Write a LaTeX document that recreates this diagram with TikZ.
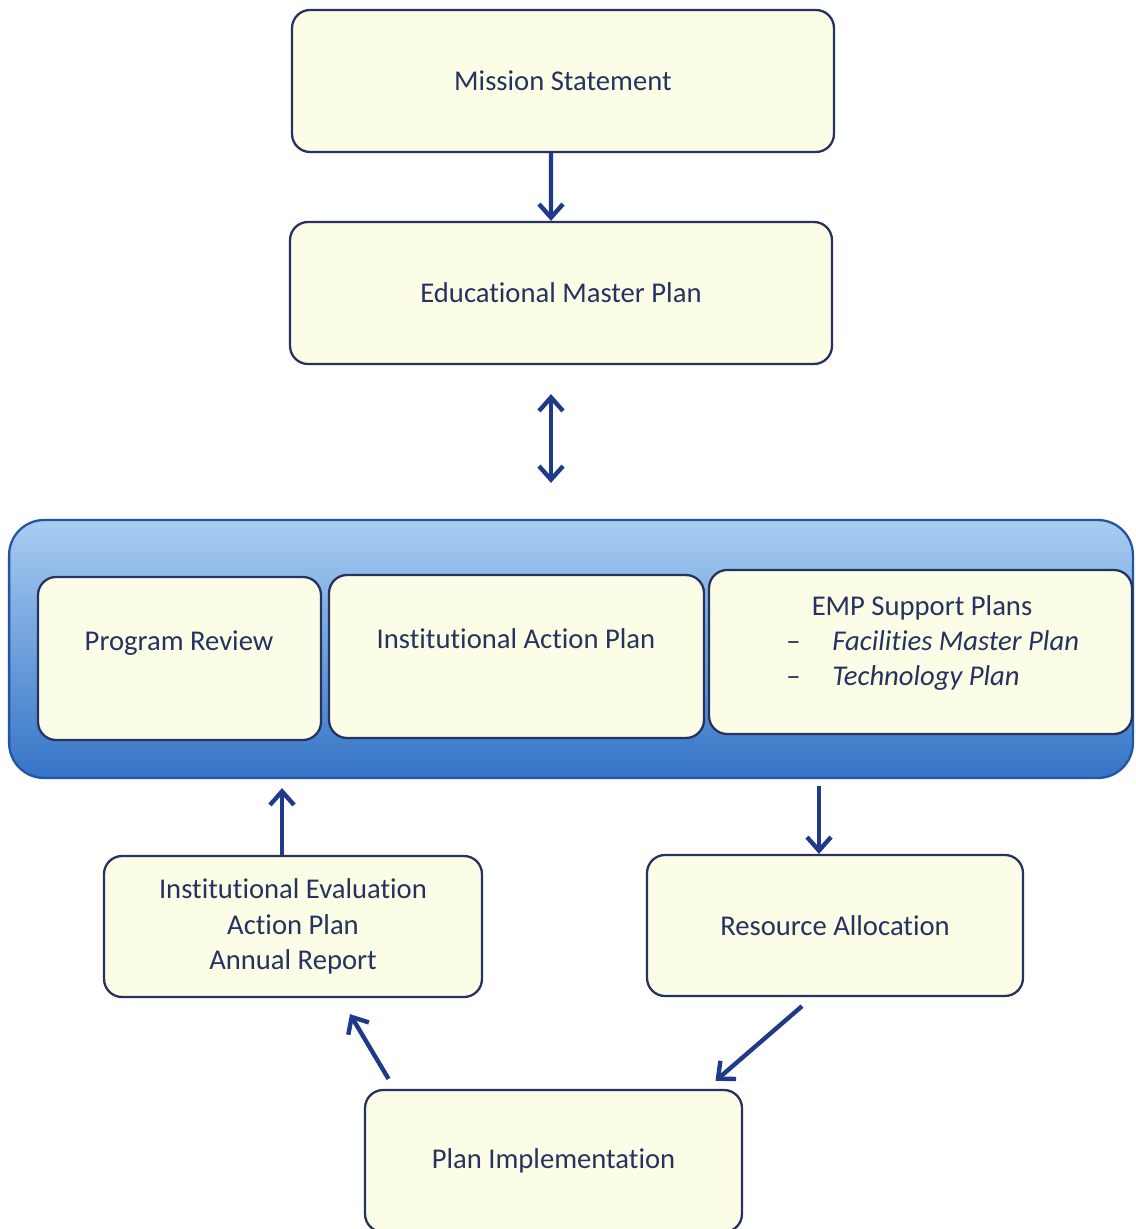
\documentclass[tikz,border=0pt]{standalone}
\usepackage{fontspec}
\setmainfont{Carlito}[Ligatures={NoCommon}]
\usetikzlibrary{arrows.meta,calc}
\definecolor{navy}{HTML}{26325F}
\definecolor{boxfill}{HTML}{FCFDE6}
\definecolor{arrowblue}{HTML}{203A8A}
\definecolor{contTop}{HTML}{A8CDF2}
\definecolor{contBot}{HTML}{3574C6}
\definecolor{contLine}{HTML}{2554A4}
\begin{document}
\begin{tikzpicture}[x=0.02cm,y=-0.02cm,
  txt/.style={text=navy, font=\fontsize{16.3}{20.2}\selectfont},
  box/.style={draw=navy, line width=1.3pt, fill=boxfill, rounded corners=0.36cm, inner sep=0pt, align=center, txt},
  lbl/.style={txt, inner sep=0pt},
  tip/.tip={Straight Barb[length=0.27cm,width=0.48cm]},
  arr/.style={draw=arrowblue, line width=2.5pt, -tip},
  darr/.style={draw=arrowblue, line width=2.5pt, tip-tip}]
\useasboundingbox (0,0) rectangle (1135,1229);
\fill[white] (0,0) rectangle (1135,1229);

% top boxes
\node[box, minimum width=10.84cm, minimum height=2.84cm] (ms) at (563,81) {Mission Statement};
\node[box, minimum width=10.84cm, minimum height=2.84cm] (emp) at (561,293) {Educational Master Plan};

% container
\node[draw=contLine, line width=1.3pt, rounded corners=0.7cm, top color=contTop, bottom color=contBot, minimum width=22.48cm, minimum height=5.16cm, inner sep=0pt] (cont) at (571,649) {};

% inner boxes
\node[box, minimum width=5.66cm, minimum height=3.26cm] (pr) at (179.5,658.5) {};
\node[lbl, anchor=base] (prt) at (179,650) {Program Review};
\node[box, minimum width=7.5cm, minimum height=3.26cm] (iap) at (516.5,656.5) {};
\node[lbl, anchor=base] (iapt) at (516,648) {Institutional Action Plan};
\node[box, minimum width=8.46cm, minimum height=3.28cm] (sup) at (920.5,652) {};
\node[lbl, anchor=base] (supt) at (922,615) {EMP Support Plans};
\node[lbl, anchor=base west] (d1) at (786,650) {–};
\node[lbl, anchor=base west] (f1) at (832,650) {\itshape Facilities Master Plan};
\node[lbl, anchor=base west] (d2) at (786,685) {–};
\node[lbl, anchor=base west] (f2) at (832,685) {\itshape Technology Plan};

% lower boxes
\node[box, minimum width=7.56cm, minimum height=2.82cm] (ev) at (293,926.5) {Institutional Evaluation\\Action Plan\\Annual Report};
\node[box, minimum width=7.52cm, minimum height=2.82cm] (ra) at (835,925.5) {Resource Allocation};
\node[box, minimum width=7.54cm, minimum height=2.84cm] (pi) at (553.5,1161) {Plan Implementation};

% connectors
\draw[arr] ([xshift=-0.24cm]ms.south) -- ([xshift=-0.2cm]emp.north);
\draw[darr] ($(emp.south)+(-10,29)$) -- ($(cont.north)+(-20,-36)$);
\draw[arr] ($(ev.north)+(-11,0)$) -- ($(cont.south -| ev.north)+(-11,9)$);
\draw[arr] ($(cont.south -| ra.north)+(-16,7)$) -- ($(ra.north)+(-16,0)$);
\draw[arr] ($(ra.south)+(-33,9)$) -- ($(pi.north)+(162,-8)$);
\draw[arr] ($(pi.north)+(-165,-10)$) -- ($(ev.south)+(57,16)$);
\end{tikzpicture}
\end{document}
